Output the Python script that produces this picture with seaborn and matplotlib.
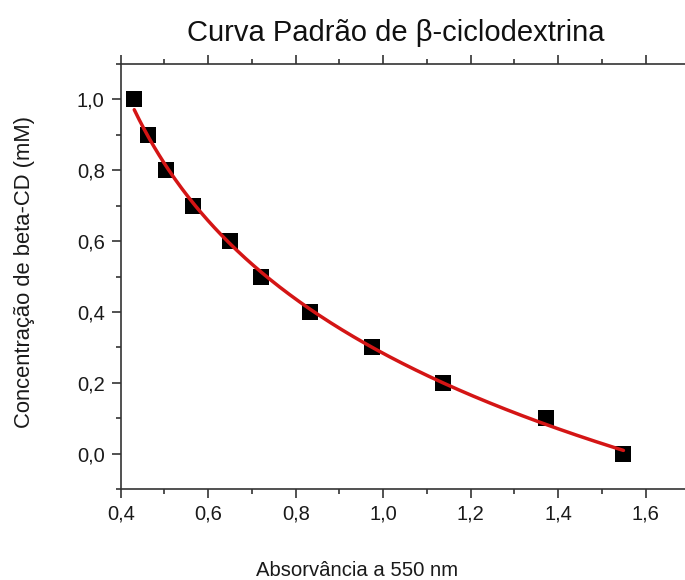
import numpy as np
import pandas as pd
import matplotlib
matplotlib.use("Agg")
import matplotlib.pyplot as plt
from matplotlib.ticker import MultipleLocator, FuncFormatter
import seaborn as sns

# Standard curve data: absorbance at 550 nm vs beta-CD concentration (mM)
absorbance = [0.431, 0.462, 0.504, 0.565, 0.650, 0.721, 0.833, 0.974, 1.136, 1.371, 1.549]
concentration = [1.0, 0.9, 0.8, 0.7, 0.6, 0.5, 0.4, 0.3, 0.2, 0.1, 0.0]

title_text = "Curva Padrão de β-ciclodextrina"
x_label = "Absorvância a 550 nm"
y_label = "Concentração de beta-CD (mM)"

sns.set_theme(style="ticks")
plt.rcParams["font.family"] = ["Liberation Sans", "DejaVu Sans"]

df = pd.DataFrame({"abs": absorbance, "conc": concentration})

# Exponential decay of absorbance with concentration: A = A0 + B*exp(-c/t)
# scan t, linear least squares for A0 and B
ca = df["conc"].to_numpy()
xa = df["abs"].to_numpy()
best = None
for t in np.linspace(0.05, 5.0, 3000):
    M = np.column_stack([np.ones_like(ca), np.exp(-ca / t)])
    coef, *_ = np.linalg.lstsq(M, xa, rcond=None)
    err = np.sum((M @ coef - xa) ** 2)
    if best is None or err < best[0]:
        best = (err, t, coef)
_, t_fit, (a0_fit, b_fit) = best

# draw the fitted curve over the measured absorbance range
def conc_at(a):
    return -t_fit * np.log((a - a0_fit) / b_fit)

a_curve = np.linspace(xa.min(), xa.max(), 300)
fit_df = pd.DataFrame({"abs": a_curve, "conc": conc_at(a_curve)})

W, H = 685, 580
fig = plt.figure(figsize=(W / 100, H / 100), dpi=100)
left, right, top, bottom = 120.7, 689.5, 64.0, 489.0
ax = fig.add_axes([left / W, 1 - bottom / H, (right - left) / W, (bottom - top) / H])

sns.lineplot(data=fit_df, x="abs", y="conc", ax=ax, color="#d41515", linewidth=2.5,
             sort=False, zorder=3)
sns.scatterplot(data=df, x="abs", y="conc", ax=ax, marker="s", s=120, color="black",
                edgecolor="black", linewidth=0, zorder=2)

ax.set_xlim(0.4, 1.7)
ax.set_ylim(-0.1, 1.1)
ax.xaxis.set_major_locator(MultipleLocator(0.2))
ax.xaxis.set_minor_locator(MultipleLocator(0.1))
ax.yaxis.set_major_locator(MultipleLocator(0.2))
ax.yaxis.set_minor_locator(MultipleLocator(0.1))
comma = FuncFormatter(lambda v, p: f"{v:.1f}".replace(".", ",").replace("-0,0", "0,0"))
ax.xaxis.set_major_formatter(comma)
ax.yaxis.set_major_formatter(comma)

for s in ax.spines.values():
    s.set_linewidth(1.2)
    s.set_color("#333333")
ax.spines["right"].set_visible(False)

ax.tick_params(axis="both", which="major", direction="out", length=6.5, width=1.2,
               color="#333333", labelsize=14.5, labelcolor="#1a1a1a", pad=5)
ax.tick_params(axis="both", which="minor", direction="out", length=3.5, width=1.2, color="#333333")
ax.tick_params(axis="x", which="both", top=True, labeltop=False)

ax.set_xlabel("")
ax.set_ylabel("")
fig.text(357 / W, 1 - 570 / H, x_label, ha="center", va="center", fontsize=14.6, color="#1a1a1a")
fig.text(25 / W, 1 - 272 / H, y_label, ha="center", va="center", rotation=90,
         fontsize=15.8, color="#1a1a1a")
fig.text(396 / W, 1 - 33 / H, title_text, ha="center", va="center", fontsize=21, color="#111111")

fig.savefig("out.png", dpi=100, facecolor="white")
